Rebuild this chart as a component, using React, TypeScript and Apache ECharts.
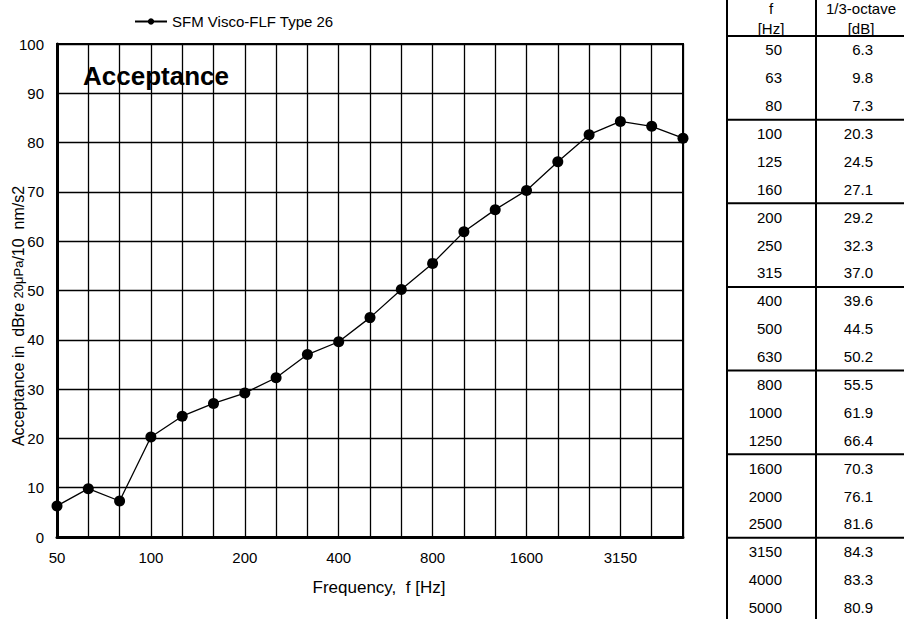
import React, { useEffect, useRef } from "react";
import * as echarts from "echarts";

const frequencies = ["50", "63", "80", "100", "125", "160", "200", "250", "315", "400", "500", "630", "800", "1000", "1250", "1600", "2000", "2500", "3150", "4000", "5000"];
const acceptance = [6.3, 9.8, 7.3, 20.3, 24.5, 27.1, 29.2, 32.3, 37.0, 39.6, 44.5, 50.2, 55.5, 61.9, 66.4, 70.3, 76.1, 81.6, 84.3, 83.3, 80.9];
const seriesName = "SFM Visco-FLF Type 26";
const tableHeaderF = ["f", "[Hz]"];
const tableHeaderV = ["1/3-octave", "[dB]"];

const FONT = "'Liberation Sans', Arial, sans-serif";

export default function App() {
  const ref = useRef<HTMLDivElement>(null);
  useEffect(() => {
    if (!ref.current) return;
    const chart = echarts.init(ref.current, null, { renderer: "svg" });

    // table graphics
    const rowH = 27.88;
    const headY = 36;
    const xL = 727, xM = 816, xR = 906;
    const g: any[] = [];
    [xL, xM, xR].forEach((x) =>
      g.push({ type: "line", shape: { x1: x, y1: 0, x2: x, y2: 619 }, style: { stroke: "#000", lineWidth: 2 }, silent: true })
    );
    for (let k = 0; k * 3 <= frequencies.length; k++) {
      const y = headY + k * 3 * rowH;
      g.push({ type: "line", shape: { x1: xL, y1: y, x2: xR, y2: y }, style: { stroke: "#000", lineWidth: 2 }, silent: true });
    }
    tableHeaderF.forEach((t, i) =>
      g.push({ type: "text", x: 771, y: 8 + i * 20, style: { text: t, font: `15px ${FONT}`, fill: "#000", align: "center", verticalAlign: "middle" } })
    );
    tableHeaderV.forEach((t, i) =>
      g.push({ type: "text", x: 861, y: 8 + i * 20, style: { text: t, font: `15px ${FONT}`, fill: "#000", align: "center", verticalAlign: "middle" } })
    );
    frequencies.forEach((f, i) => {
      const y = headY + rowH * (i + 0.5);
      g.push({ type: "text", x: 782, y, style: { text: f, font: `15px ${FONT}`, fill: "#000", align: "right", verticalAlign: "middle" } });
      g.push({ type: "text", x: 873, y, style: { text: acceptance[i].toFixed(1), font: `15px ${FONT}`, fill: "#000", align: "right", verticalAlign: "middle" } });
    });

    // y-axis title
    g.push({
      type: "text",
      x: 18,
      y: 316,
      rotation: Math.PI / 2,
      style: {
        text: "{a|Acceptance in  dBre }{b|20μPa}{a|/10  nm/s2}",
        align: "center",
        verticalAlign: "middle",
        fill: "#000",
        rich: {
          a: { fontSize: 16, fill: "#000", fontFamily: FONT },
          b: { fontSize: 13, fill: "#000", fontFamily: FONT },
        },
      },
    });

    chart.setOption({
      animation: false,
      backgroundColor: "#fff",
      textStyle: { fontFamily: FONT, color: "#000" },
      title: {
        text: "Acceptance",
        left: 78,
        top: 58,
        textStyle: { fontSize: 26, fontWeight: "bold", color: "#000", fontFamily: FONT },
      },
      legend: {
        left: 129,
        top: 9,
        itemWidth: 32,
        itemHeight: 8,
        itemGap: 10,
        textStyle: { fontSize: 15, color: "#000", fontFamily: FONT },
        data: [seriesName],
      },
      grid: {
        left: 57,
        right: 221,
        top: 44,
        bottom: 82,
        show: true,
        borderColor: "#000",
        borderWidth: 2,
        outerBoundsMode: "none",
        containLabel: false,
      },
      xAxis: {
        type: "category",
        data: frequencies,
        boundaryGap: false,
        name: "Frequency,  f [Hz]",
        nameLocation: "middle",
        nameGap: 42,
        nameTextStyle: { fontSize: 17, color: "#000", fontFamily: FONT, padding: [0, 0, 0, 18] },
        axisLine: { lineStyle: { color: "#000", width: 3 } },
        axisTick: { show: false },
        axisLabel: { interval: 2, fontSize: 15, color: "#000", margin: 13, fontFamily: FONT },
        splitLine: { show: true, interval: 0, lineStyle: { color: "#000", width: 1.3 } },
      },
      yAxis: {
        type: "value",
        min: 0,
        max: 100,
        interval: 10,
        axisLine: { show: true, lineStyle: { color: "#000", width: 3 } },
        axisTick: { show: false },
        axisLabel: { fontSize: 15, color: "#000", margin: 13, fontFamily: FONT },
        splitLine: { show: true, lineStyle: { color: "#000", width: 1.3 } },
      },
      series: [
        {
          name: seriesName,
          type: "line",
          data: acceptance,
          symbol: "circle",
          symbolSize: 11,
          itemStyle: { color: "#000" },
          lineStyle: { color: "#000", width: 1.3 },
          z: 5,
        },
      ],
      graphic: g,
    });
    return () => chart.dispose();
  }, []);
  return <div ref={ref} style={{ position: "fixed", left: 0, top: 0, width: 904, height: 619, background: "#fff" }} />;
}
